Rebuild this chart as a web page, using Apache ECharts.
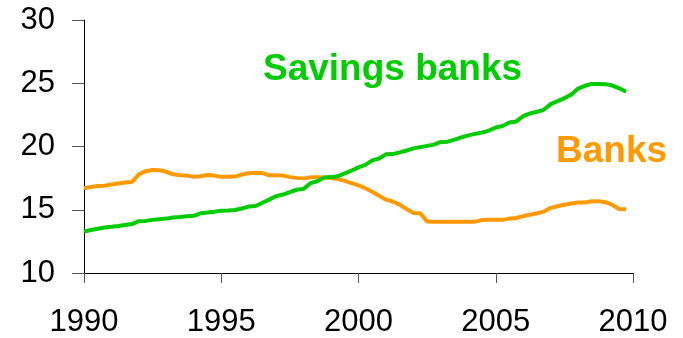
<!DOCTYPE html>
<html>
<head>
<meta charset="utf-8">
<script src="https://cdn.jsdelivr.net/npm/echarts@6/dist/echarts.min.js"></script>
<style>
  html, body { margin: 0; padding: 0; background: #fff; }
  #chart { width: 683px; height: 338px; }
</style>
</head>
<body>
<div id="chart"></div>
<script>
// quarterly readings, first quarter of 1990 onward
var startYear = 1990;
var savingsBanks = [
    13.27, 13.4, 13.5, 13.6, 13.65, 13.72, 13.8, 13.87,
    14.1, 14.12, 14.2, 14.25, 14.3, 14.38, 14.42, 14.48,
    14.52, 14.72, 14.78, 14.85, 14.93, 14.95, 14.98, 15.1,
    15.25, 15.3, 15.55, 15.8, 16.08, 16.2, 16.4, 16.58,
    16.65, 17.1, 17.25, 17.55, 17.58, 17.65, 17.88, 18.1,
    18.35, 18.55, 18.9, 19.05, 19.38, 19.4, 19.54, 19.68,
    19.85, 19.95, 20.05, 20.15, 20.36, 20.38, 20.55, 20.72,
    20.88, 21.0, 21.1, 21.25, 21.5, 21.62, 21.9, 21.98,
    22.4, 22.62, 22.75, 22.9, 23.35, 23.58, 23.82, 24.1,
    24.58, 24.8, 24.95, 24.95, 24.93, 24.82, 24.6, 24.33
];
var banks = [
    16.7, 16.8, 16.88, 16.9, 17.0, 17.08, 17.15, 17.2,
    17.8, 18.05, 18.15, 18.12, 18.0, 17.8, 17.72, 17.7,
    17.6, 17.65, 17.75, 17.7, 17.6, 17.6, 17.62, 17.78,
    17.88, 17.93, 17.9, 17.72, 17.72, 17.7, 17.58, 17.52,
    17.48, 17.56, 17.56, 17.55, 17.5, 17.42, 17.28, 17.1,
    16.92, 16.7, 16.42, 16.1, 15.8, 15.65, 15.4, 15.05,
    14.75, 14.72, 14.08, 14.06, 14.06, 14.06, 14.06, 14.06,
    14.06, 14.06, 14.18, 14.2, 14.2, 14.2, 14.3, 14.35,
    14.5, 14.6, 14.72, 14.85, 15.15, 15.28, 15.4, 15.5,
    15.57, 15.58, 15.68, 15.68, 15.6, 15.38, 15.05, 15.03
];
var xTicks = [1990, 1995, 2000, 2005, 2010];
var yTicks = [10, 15, 20, 25, 30];

function toPairs(values) {
    return values.map(function (v, i) { return [startYear + i / 4, v]; });
}

var chart = echarts.init(document.getElementById('chart'), null, { renderer: 'canvas' });

var labelFont = 'Liberation Sans, Arial, sans-serif';

var option = {
    animation: false,
    backgroundColor: '#fff',
    grid: { left: 84, right: 50, top: 20, bottom: 65, containLabel: false },
    xAxis: {
        type: 'value',
        min: xTicks[0],
        max: xTicks[xTicks.length - 1],
        interval: 5,
        axisLine: { lineStyle: { color: '#000', width: 1 } },
        axisTick: { length: 10, lineStyle: { color: '#555' } },
        splitLine: { show: false },
        axisLabel: {
            color: '#000', fontSize: 31, fontFamily: labelFont, margin: 34,
            formatter: function (v) { return String(v); }
        }
    },
    yAxis: {
        type: 'value',
        min: yTicks[0],
        max: yTicks[yTicks.length - 1],
        interval: 5,
        axisLine: { show: true, lineStyle: { color: '#000', width: 1 } },
        axisTick: { show: true, length: 12, lineStyle: { color: '#555' } },
        splitLine: { show: false },
        axisLabel: { color: '#000', fontSize: 31, fontFamily: labelFont, margin: 29 }
    },
    series: [
        {
            name: 'Banks',
            type: 'line',
            data: toPairs(banks),
            showSymbol: false,
            lineStyle: { color: '#ff9900', width: 4 },
            z: 2
        },
        {
            name: 'Savings banks',
            type: 'line',
            data: toPairs(savingsBanks),
            showSymbol: false,
            lineStyle: { color: '#00cc00', width: 4 },
            z: 3
        }
    ],
    graphic: [
        {
            type: 'text',
            left: 263,
            top: 51,
            style: { text: 'Savings banks', fill: '#00cc00', font: 'bold 37px ' + labelFont }
        },
        {
            type: 'text',
            left: 556,
            top: 133,
            style: { text: 'Banks', fill: '#ff9900', font: 'bold 37px ' + labelFont }
        }
    ]
};

chart.setOption(option);
window.addEventListener('resize', function () {
    chart.resize();
});
</script>
</body>
</html>
